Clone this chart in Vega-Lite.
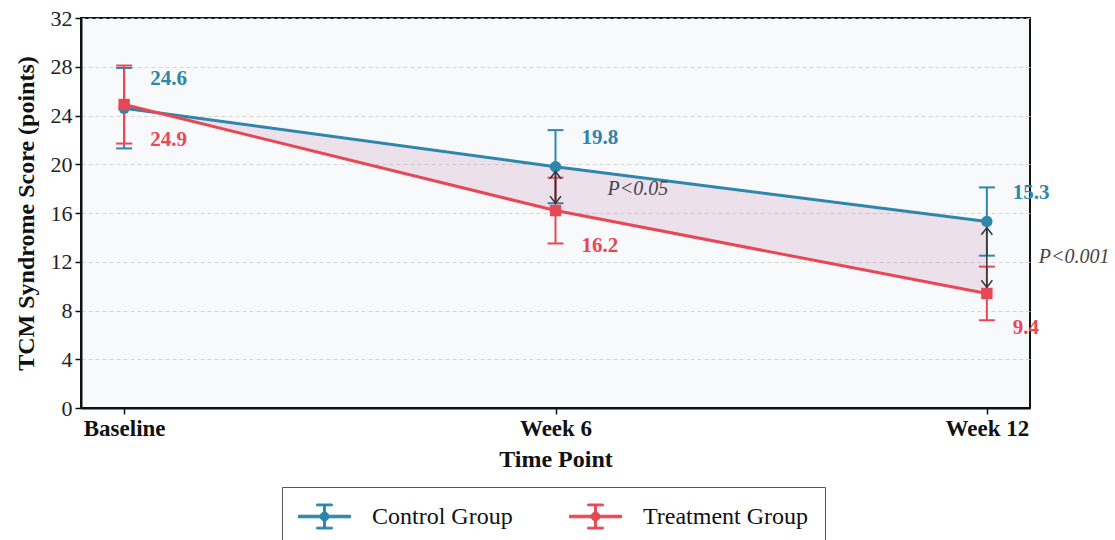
{
  "$schema": "https://vega.github.io/schema/vega-lite/v6.json",
  "width": 949,
  "height": 390,
  "autosize": "none",
  "padding": {"left": 81, "top": 18, "right": 85, "bottom": 132},
  "background": "white",
  "config": {
    "font": "Liberation Serif",
    "view": {"stroke": "#111111", "strokeWidth": 2, "fill": "#F8F9FA"},
    "axis": {
      "domainColor": "#111111",
      "domainWidth": 2,
      "tickColor": "#111111",
      "tickWidth": 1.5,
      "tickSize": 6,
      "labelFont": "Liberation Serif",
      "labelColor": "#222222",
      "titleFont": "Liberation Serif",
      "titleColor": "#111111",
      "titleFontWeight": "bold",
      "titleFontSize": 24
    }
  },
  "datasets": {
    "scores": [
      {"time": "Baseline", "group": "Control Group", "mean": 24.6, "lower": 21.3, "upper": 27.9},
      {"time": "Week 6", "group": "Control Group", "mean": 19.8, "lower": 16.8, "upper": 22.8},
      {"time": "Week 12", "group": "Control Group", "mean": 15.3, "lower": 12.5, "upper": 18.1},
      {"time": "Baseline", "group": "Treatment Group", "mean": 24.9, "lower": 21.7, "upper": 28.1},
      {"time": "Week 6", "group": "Treatment Group", "mean": 16.2, "lower": 13.5, "upper": 18.9},
      {"time": "Week 12", "group": "Treatment Group", "mean": 9.4, "lower": 7.2, "upper": 11.6}
    ],
    "sig": [
      {"time": "Week 6", "top": 19.4, "bottom": 16.8, "mid": 18.0, "label": "P<0.05"},
      {"time": "Week 12", "top": 14.8, "bottom": 9.9, "mid": 12.35, "label": "P<0.001"}
    ]
  },
  "encoding": {
    "x": {
      "field": "time",
      "type": "ordinal",
      "sort": ["Baseline", "Week 6", "Week 12"],
      "scale": {"type": "point", "padding": 0.1},
      "axis": {"title": "Time Point", "labelAngle": 0, "labelFontSize": 23, "labelFontWeight": "bold", "labelColor": "#111111", "labelPadding": 3, "titlePadding": 7}
    }
  },
  "layer": [
    {
      "data": {"name": "scores"},
      "transform": [{"pivot": "group", "value": "mean", "groupby": ["time"]}],
      "mark": {"type": "area", "fill": "#A05195", "opacity": 0.14},
      "encoding": {
        "y": {
          "field": "Control Group",
          "type": "quantitative",
          "scale": {"domain": [0, 32], "nice": false},
          "axis": {"title": "TCM Syndrome Score (points)", "values": [0, 4, 8, 12, 16, 20, 24, 28, 32], "labelFontSize": 22, "labelPadding": 3, "grid": true, "gridColor": "#CCCCCC", "gridDash": [4, 3], "gridWidth": 0.8, "titlePadding": 12}
        },
        "y2": {"field": "Treatment Group"}
      }
    },
    {
      "data": {"name": "scores"},
      "mark": {"type": "rule", "strokeWidth": 2, "opacity": 1},
      "encoding": {
        "y": {"field": "lower", "type": "quantitative"},
        "y2": {"field": "upper"},
        "color": {"field": "group", "type": "nominal"}
      }
    },
    {
      "data": {"name": "scores"},
      "mark": {"type": "tick", "size": 16, "thickness": 2, "opacity": 1},
      "encoding": {
        "y": {"field": "lower", "type": "quantitative"},
        "color": {"field": "group", "type": "nominal"}
      }
    },
    {
      "data": {"name": "scores"},
      "mark": {"type": "tick", "size": 16, "thickness": 2, "opacity": 1},
      "encoding": {
        "y": {"field": "upper", "type": "quantitative"},
        "color": {"field": "group", "type": "nominal"}
      }
    },
    {
      "data": {"name": "scores"},
      "mark": {"type": "line", "strokeWidth": 3, "opacity": 1},
      "encoding": {
        "y": {"field": "mean", "type": "quantitative"},
        "color": {"field": "group", "type": "nominal"}
      }
    },
    {
      "data": {"name": "scores"},
      "transform": [{"filter": "datum.group === 'Control Group'"}],
      "mark": {"type": "point", "filled": true, "opacity": 1, "size": 130, "shape": "circle"},
      "encoding": {
        "y": {"field": "mean", "type": "quantitative"},
        "color": {
          "field": "group",
          "type": "nominal",
          "scale": {"domain": ["Control Group", "Treatment Group"], "range": ["#2E86AB", "#E84855"]},
          "legend": {
            "title": null,
            "orient": "none",
            "legendX": 201,
            "legendY": 469,
            "direction": "horizontal",
            "columns": 2,
            "columnPadding": 54,
            "padding": 16,
            "strokeColor": "#555555",
            "fillColor": "white",
            "labelFont": "Liberation Serif",
            "labelFontSize": 24,
            "labelColor": "#111111",
            "labelOffset": 47,
            "symbolType": "M-1,-0.1H3V0.1H-1ZM0.93,-0.88H1.07V0.88H0.93ZM0.4,-0.96H1.6V-0.82H0.4ZM0.4,0.82H1.6V0.96H0.4ZM1.34,0A0.34,0.34,0,1,1,0.66,0A0.34,0.34,0,1,1,1.34,0Z",
            "symbolSize": 676,
            "symbolStrokeWidth": 1,
            "labelLimit": 300
          }
        }
      }
    },
    {
      "data": {"name": "scores"},
      "transform": [{"filter": "datum.group === 'Treatment Group'"}],
      "mark": {"type": "point", "filled": true, "opacity": 1, "size": 130, "shape": "square"},
      "encoding": {
        "y": {"field": "mean", "type": "quantitative"},
        "color": {"field": "group", "type": "nominal"}
      }
    },
    {
      "data": {"name": "sig"},
      "mark": {"type": "rule", "strokeWidth": 1.5, "color": "#333333"},
      "encoding": {
        "y": {"field": "top", "type": "quantitative"},
        "y2": {"field": "bottom"}
      }
    },
    {
      "data": {"name": "sig"},
      "mark": {"type": "point", "filled": false, "stroke": "#333333", "strokeWidth": 1.5, "opacity": 1, "size": 121, "shape": "M-1,1.3L0,0L1,1.3"},
      "encoding": {
        "y": {"field": "top", "type": "quantitative"}
      }
    },
    {
      "data": {"name": "sig"},
      "mark": {"type": "point", "filled": false, "stroke": "#333333", "strokeWidth": 1.5, "opacity": 1, "size": 121, "shape": "M-1,-1.3L0,0L1,-1.3"},
      "encoding": {
        "y": {"field": "bottom", "type": "quantitative"}
      }
    },
    {
      "data": {"name": "sig"},
      "mark": {"type": "text", "align": "left", "baseline": "middle", "dx": 52, "fontSize": 20, "fontStyle": "italic", "color": "#444444", "font": "Liberation Serif"},
      "encoding": {
        "y": {"field": "mid", "type": "quantitative"},
        "text": {"field": "label"}
      }
    },
    {
      "data": {"name": "scores"},
      "transform": [{"filter": "datum.group === 'Control Group'"}],
      "mark": {"type": "text", "align": "left", "baseline": "middle", "dx": 26, "dy": -29, "fontSize": 21, "fontWeight": "bold", "font": "Liberation Serif"},
      "encoding": {
        "y": {"field": "mean", "type": "quantitative"},
        "text": {"field": "mean", "format": ".1f"},
        "color": {"field": "group", "type": "nominal"}
      }
    },
    {
      "data": {"name": "scores"},
      "transform": [{"filter": "datum.group === 'Treatment Group'"}],
      "mark": {"type": "text", "align": "left", "baseline": "middle", "dx": 26, "dy": 35, "fontSize": 21, "fontWeight": "bold", "font": "Liberation Serif"},
      "encoding": {
        "y": {"field": "mean", "type": "quantitative"},
        "text": {"field": "mean", "format": ".1f"},
        "color": {"field": "group", "type": "nominal"}
      }
    }
  ]
}
